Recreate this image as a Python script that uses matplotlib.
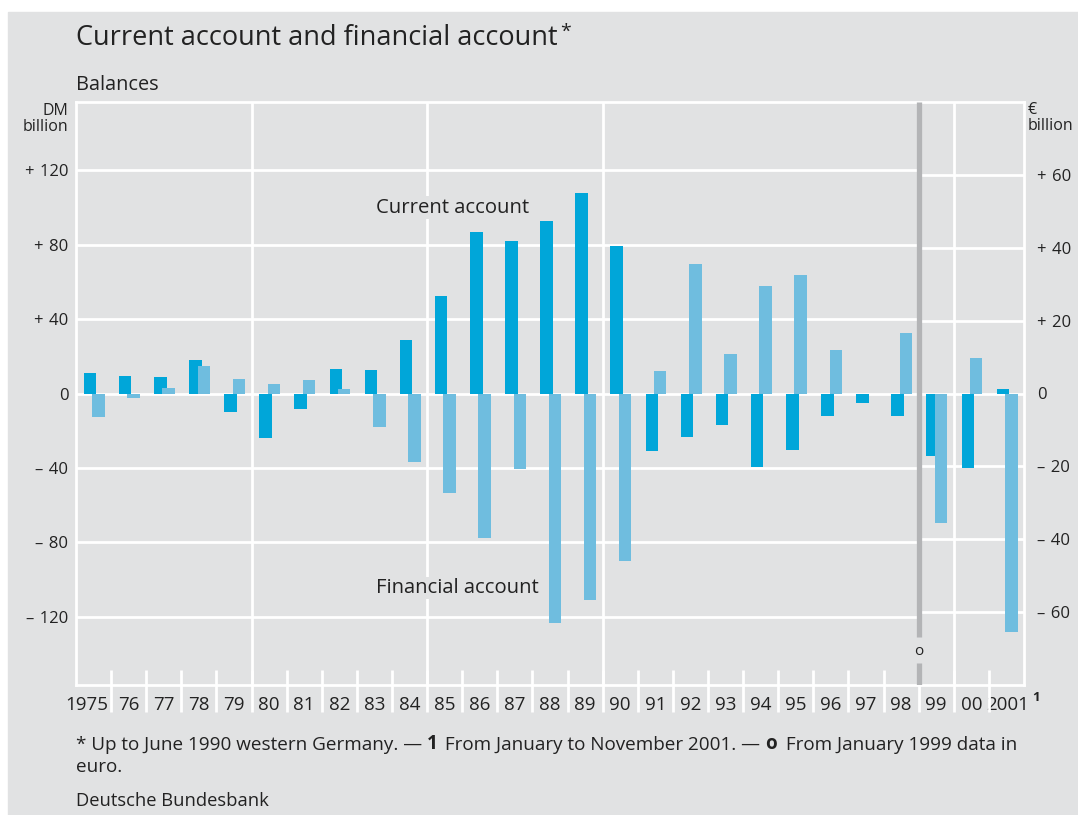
import numpy as np
import matplotlib.pyplot as plt
from matplotlib.patches import Rectangle
from matplotlib.transforms import blended_transform_factory, ScaledTranslation

plt.rcParams['font.family'] = ['Open Sans', 'DejaVu Sans']

EUR = 1.95583  # DM per euro

year_labels = ['1975', '76', '77', '78', '79', '80', '81', '82', '83', '84', '85', '86', '87',
               '88', '89', '90', '91', '92', '93', '94', '95', '96', '97', '98', '99', '00', '2001']
# DM billion, 1975-1998
current_dm = [11.0, 9.6, 8.9, 18.0, -10.1, -23.7, -8.2, 13.2, 12.6, 28.7, 52.4, 86.6, 82.1,
              92.7, 107.6, 79.3, -30.9, -23.4, -16.9, -39.5, -30.4, -12.1, -5.1, -12.1]
financial_dm = [-12.4, -2.2, 2.8, 14.8, 7.6, 4.9, 7.3, 2.2, -18.0, -36.8, -53.5, -77.6, -40.6,
                -123.2, -110.8, -90.0, 12.1, 69.6, 21.2, 57.8, 63.7, 23.4, 0.0, 32.5]
# euro billion, 1999-2001
current_eur = [-17.1, -20.4, 1.2]
financial_eur = [-35.6, 9.8, -65.6]

sp = '\u2004'
dm_ticks = [-120, -80, -40, 0, 40, 80, 120]
dm_labels = ['–' + sp + '120', '–' + sp + '80', '–' + sp + '40', '0',
             '+' + sp + '40', '+' + sp + '80', '+' + sp + '120']
eur_ticks = [-60, -40, -20, 0, 20, 40, 60]
eur_labels = ['–' + sp + '60', '–' + sp + '40', '–' + sp + '20', '0',
              '+' + sp + '20', '+' + sp + '40', '+' + sp + '60']

bg = '#e1e2e3'
c_cur = '#00a6d9'
c_fin = '#6fbddf'
grey = '#b3b4b6'
ink = '#222222'

current = np.array(current_dm + [v * EUR for v in current_eur])
financial = np.array(financial_dm + [v * EUR for v in financial_eur])
x = np.arange(len(year_labels))
split = 23.5  # start of euro data (1999)

fig = plt.figure(figsize=(10.78, 8.15), dpi=100, facecolor='white')
fig.patches.append(Rectangle((8 / 1078, -0.05), 1.1, 0.05 + (815 - 12) / 815,
                             transform=fig.transFigure, color=bg, zorder=-10))
ax = fig.add_axes([76 / 1078, 130 / 815, 948 / 1078, 583 / 815])
ax.set_facecolor(bg)
ylo, yhi = -156.6, 156.6
ax.set_xlim(-0.5, 26.5)
ax.set_ylim(ylo, yhi)

# gridlines: DM part left of the split, euro part right of it
ax.hlines(dm_ticks, -0.5, split - 0.05, color='white', lw=2, zorder=1)
ax.hlines([t * EUR for t in eur_ticks], split + 0.05, 26.5, color='white', lw=2, zorder=1)
ax.vlines([4.5, 9.5, 14.5, 24.5], ylo, yhi, color='white', lw=2, zorder=1)

ax.bar(x - 0.1, current, width=0.356, color=c_cur, zorder=2)
ax.bar(x + 0.14, financial, width=0.356, color=c_fin, zorder=3)

# grey separator for euro data
tb = blended_transform_factory(ax.transData, ax.transAxes)
ax.plot([split, split], [0.0823, 1], color=grey, lw=3.8, transform=tb, zorder=4, solid_capstyle='butt')
ax.plot([split, split], [0, 0.0377], color=grey, lw=3.8, transform=tb, zorder=4, solid_capstyle='butt')
ax.text(split, 0.058, 'o', transform=tb, ha='center', va='center', fontsize=11, color=ink)

# short inside ticks at year boundaries
bounds = np.arange(0.5, 26, 1)
ax.vlines(bounds, 0, 15 / 583, transform=tb, color='white', lw=2, zorder=1)

for s in ax.spines.values():
    s.set_color('white')
    s.set_linewidth(2)

ax.set_xticks(x)
ax.set_xticklabels(year_labels, fontsize=13.5, color=ink)
ax.set_xticks(bounds, minor=True)
ax.tick_params(axis='x', which='major', length=0, pad=8)
ax.tick_params(axis='x', which='minor', length=19.5, width=2, color='white', direction='out')
labs = ax.get_xticklabels()
labs[0].set_transform(labs[0].get_transform() + ScaledTranslation(-0.07, 0, fig.dpi_scale_trans))
labs[-1].set_transform(labs[-1].get_transform() + ScaledTranslation(0.01, 0, fig.dpi_scale_trans))
ax.text(26.84, -0.022, '1', transform=tb, fontsize=9.5, fontweight='bold', ha='center', va='center',
        color=ink)

ax.set_yticks(dm_ticks)
ax.set_yticklabels(dm_labels, fontsize=12, color=ink)
ax.tick_params(axis='y', length=0, pad=5.5)

ax2 = ax.twinx()
ax2.set_ylim(ylo / EUR, yhi / EUR)
ax2.set_yticks(eur_ticks)
ax2.set_yticklabels(eur_labels, fontsize=12, color=ink)
ax2.tick_params(axis='y', length=0, pad=9.5)
for s in ax2.spines.values():
    s.set_visible(False)

# series labels
ax.text(8.05, 99.7, 'Current account', fontsize=14.6, color=ink, va='center', zorder=5,
        bbox=dict(facecolor=bg, edgecolor='none', pad=1))
ax.text(8.05, -104.5, 'Financial account', fontsize=14.6, color=ink, va='center', zorder=5,
        bbox=dict(facecolor=bg, edgecolor='none', pad=1))

# texts around the plot
title = fig.text(76 / 1078, 1 - 38 / 815, 'Current account and financial account', fontsize=19.5,
                 color=ink, va='center')
ax.annotate('*', xy=(1, 1), xycoords=title, xytext=(2, 1), textcoords='offset points',
            fontsize=14, color=ink, ha='left', va='top', annotation_clip=False)
fig.text(76 / 1078, 1 - 85 / 815, 'Balances', fontsize=14.3, color=ink, va='center')
fig.text(68 / 1078, 1 - 119 / 815, 'DM\nbillion', fontsize=11.5, color=ink, ha='right',
         va='center', linespacing=1.0)
fig.text(1028 / 1078, 1 - 118 / 815, '€\nbillion', fontsize=11.5, color=ink, ha='left',
         va='center', linespacing=1.0)

# footnote with bold markers
fs = 13.6
parts = [('* Up to June 1990 western Germany. — ', 'normal', 0), ('1', 'bold', 0),
         (' From January to November 2001. — ', 'normal', 1.5), ('o', 'bold', 0),
         (' From January 1999 data in', 'normal', 3)]
prev = fig.text(76 / 1078, 1 - 745 / 815, parts[0][0], fontsize=fs, color=ink, va='center')
for txt, w, dx in parts[1:]:
    prev = ax.annotate(txt, xy=(1, 0), xycoords=prev, xytext=(dx, 0), textcoords='offset points',
                       fontsize=fs, fontweight=w, color=ink, ha='left', va='bottom',
                       annotation_clip=False)
fig.text(76 / 1078, 1 - 767 / 815, 'euro.', fontsize=fs, color=ink, va='center')
fig.text(76 / 1078, 1 - 801 / 815, 'Deutsche Bundesbank', fontsize=13.2, color=ink, va='center')

fig.savefig('out.png', dpi=100, facecolor=fig.get_facecolor())
